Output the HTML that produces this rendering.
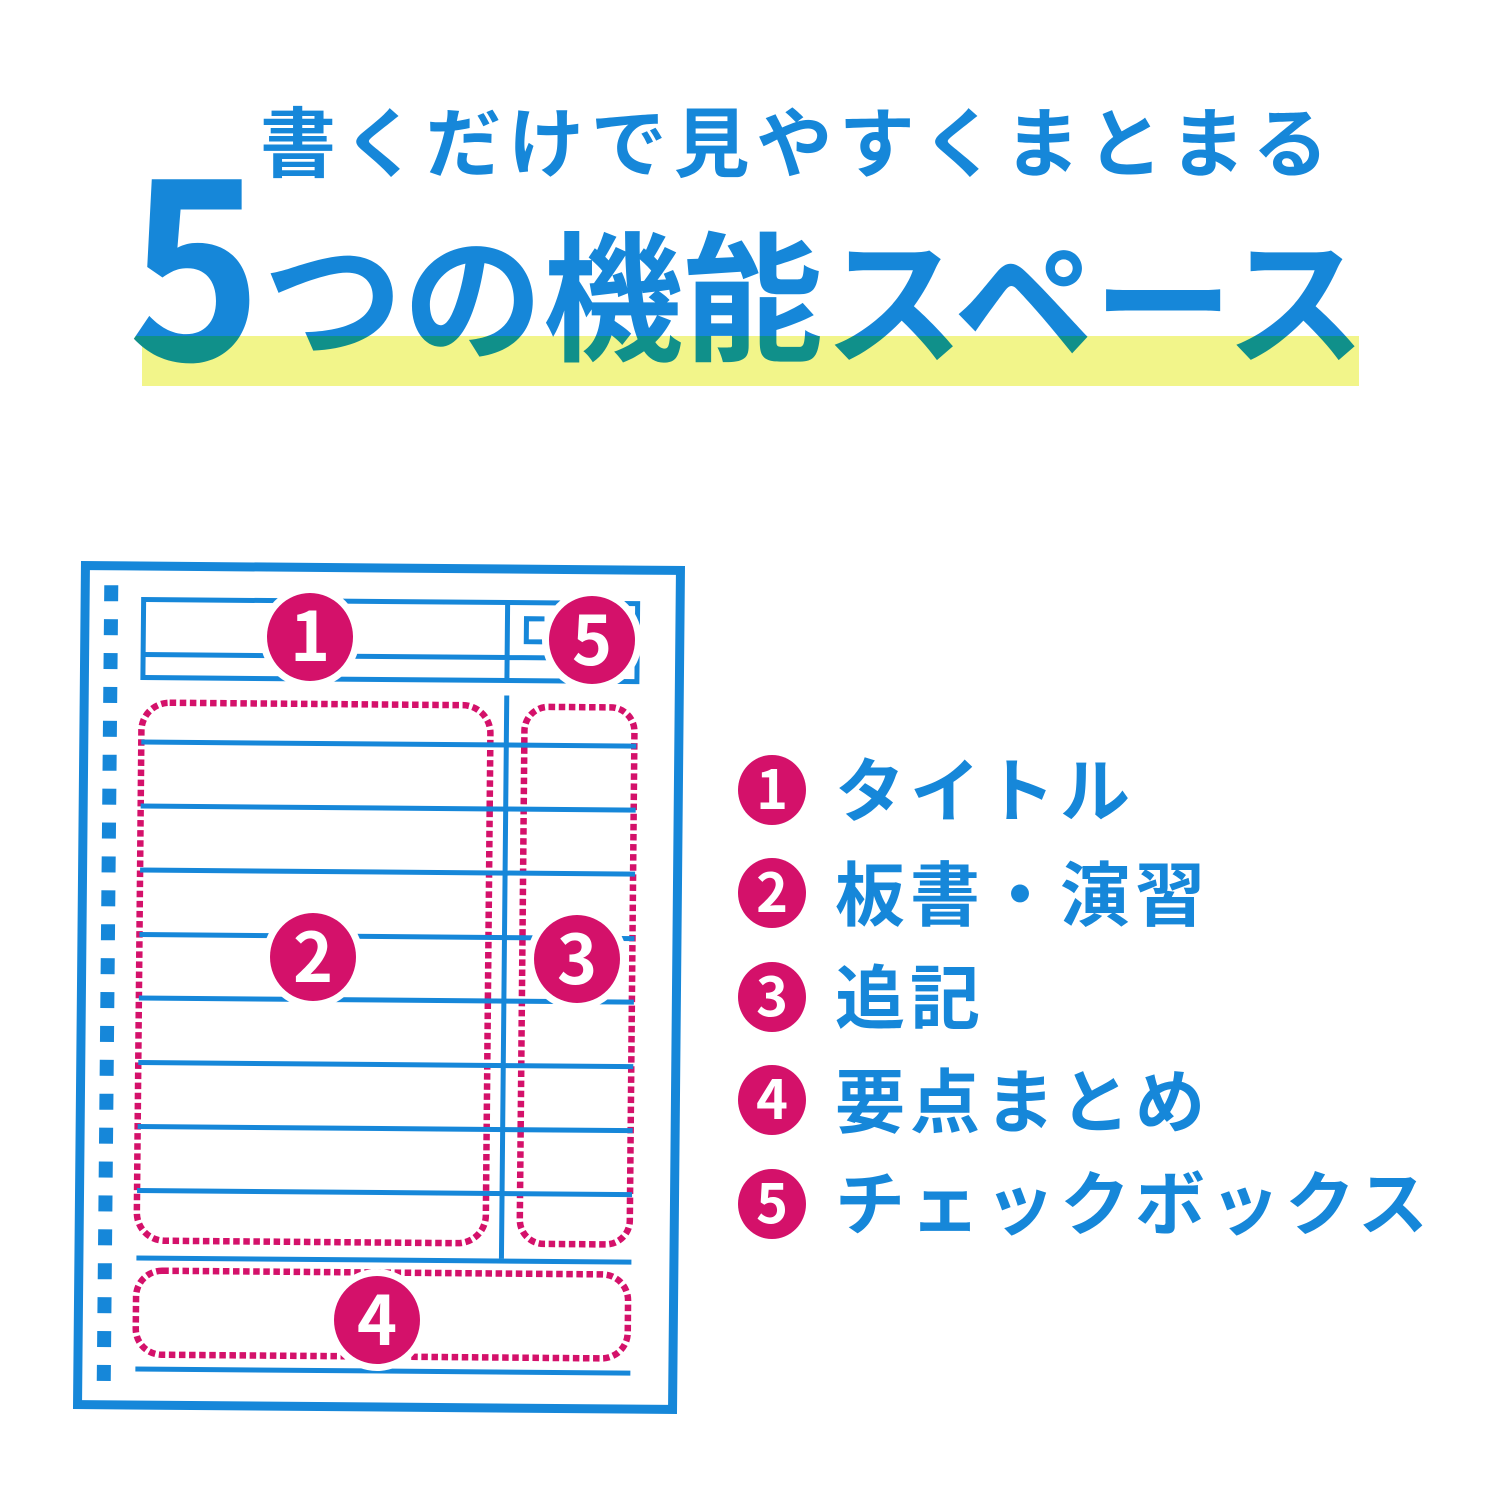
<!DOCTYPE html>
<html lang="ja"><head><meta charset="utf-8">
<style>
html,body{margin:0;padding:0;background:#fff}
svg{display:block}
text{font-family:"Liberation Sans","Noto Sans CJK JP",sans-serif;font-weight:700}
.cjk{font-family:"Noto Sans CJK JP",sans-serif;fill:#1687d9}
.hl{font-family:"Noto Sans CJK JP",sans-serif;fill:url(#hl)}
.d{font-family:"Noto Sans CJK JP",sans-serif;fill:#fff;text-anchor:middle}
.dot{fill:none;stroke:#d4116a;stroke-width:6.5;stroke-dasharray:6.5 3.6}
.l{stroke:#1687d9;stroke-width:5;fill:none}
</style></head><body>
<svg width="1500" height="1500" viewBox="0 0 1500 1500" xmlns="http://www.w3.org/2000/svg">
<defs>
<linearGradient id="hl" gradientUnits="userSpaceOnUse" x1="0" y1="0" x2="0" y2="1500">
<stop offset="0.224" stop-color="#1687d9"/><stop offset="0.224" stop-color="#10908a"/>
</linearGradient>
</defs>
<rect width="1500" height="1500" fill="#fff"/>

<text class="cjk" x="260" y="171" font-size="76" letter-spacing="6.7">書くだけで見やすくまとまる</text>
<rect x="142" y="336" width="1217" height="50" fill="#f2f58a"/>
<text class="hl" transform="scale(.93,1)" x="137.6" y="360" font-size="244">5</text>
<text class="hl" x="263" y="350" font-size="140">つの機能</text>
<text class="hl" x="824" y="354" font-size="140" letter-spacing="-0.5">スペース</text>

<g transform="matrix(1,.00828,-.00945,1,5.3,-.67)">
<rect x="85.5" y="565.5" width="595" height="839" fill="none" stroke="#1687d9" stroke-width="9"/>
<path d="M111.5 585V1381" fill="none" stroke="#1687d9" stroke-width="14" stroke-dasharray="16 17.9"/>
<rect class="l" x="144" y="599" width="494" height="78"/>
<path class="l" d="M144 654H638M508 600V677"/>
<path class="l" d="M545 615H527V638H545"/>
<rect class="dot" x="143" y="702" width="349" height="538" rx="28"/>
<rect class="dot" x="526" y="703" width="110" height="537" rx="24"/>
<rect class="dot" x="143" y="1270" width="492" height="84" rx="26"/>
<path class="l" d="M143 741.5H638M143 805.5H638M143 869.5H638M143 934H638M143 997.5H638M143 1062H638M143 1126H638M143 1190H638"/>
<path class="l" d="M508 692V1255M143 1257.5H638M143 1368.5H638"/>
</g>

<g fill="#d4116a" stroke="#fff" stroke-width="14" paint-order="stroke">
<ellipse cx="310" cy="637" rx="43" ry="44"/>
<ellipse cx="592" cy="640" rx="43" ry="44"/>
<ellipse cx="313" cy="957" rx="43" ry="44"/>
<ellipse cx="577" cy="959" rx="43" ry="44"/>
<ellipse cx="377" cy="1320" rx="43" ry="44"/>
</g>
<g font-size="68">
<text class="d" x="310" y="661">1</text>
<text class="d" x="592" y="665">5</text>
<text class="d" x="313" y="982">2</text>
<text class="d" x="577" y="984">3</text>
<text class="d" x="377" y="1345">4</text>
</g>

<g fill="#d4116a">
<ellipse cx="772" cy="790" rx="34" ry="35"/>
<ellipse cx="772" cy="893" rx="34" ry="35"/>
<ellipse cx="772" cy="997" rx="34" ry="35"/>
<ellipse cx="772" cy="1100" rx="34" ry="35"/>
<ellipse cx="772" cy="1204" rx="34" ry="35"/>
</g>
<g font-size="54">
<text class="d" x="772" y="809">1</text>
<text class="d" x="772" y="912">2</text>
<text class="d" x="772" y="1016">3</text>
<text class="d" x="772" y="1119">4</text>
<text class="d" x="772" y="1223">5</text>
</g>

<g font-size="70" letter-spacing="5">
<text class="cjk" x="835" y="816">タイトル</text>
<text class="cjk" x="835" y="920">板書・演習</text>
<text class="cjk" x="835" y="1023">追記</text>
<text class="cjk" x="835" y="1127">要点まとめ</text>
<text class="cjk" x="835" y="1229">チェックボックス</text>
</g>
</svg>
</body></html>
